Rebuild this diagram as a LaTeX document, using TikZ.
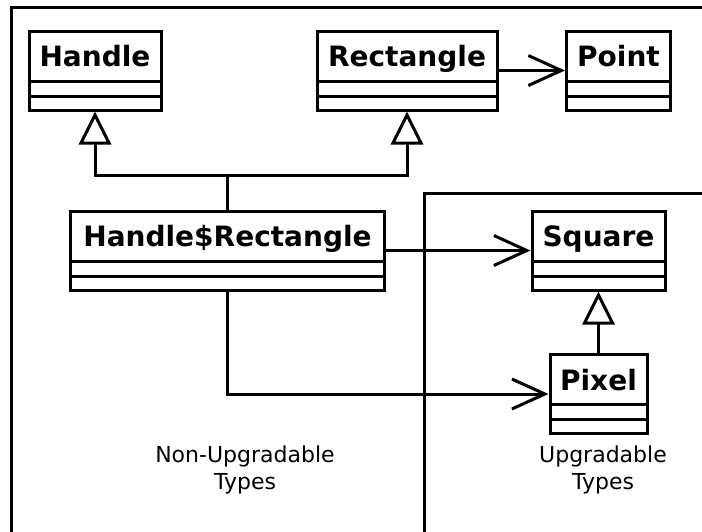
\documentclass[tikz,border=0pt]{standalone}
\usepackage{fontspec}
\setmainfont{DejaVu Sans}
\usetikzlibrary{arrows.meta}

\tikzset{
  cls/.style={draw, line width=3pt, fill=white, inner xsep=0pt, inner ysep=0pt,
    text height=35.5pt, text depth=43.5pt,
    font=\fontsize{28}{34}\selectfont\bfseries,
    path picture={
      \draw[line width=3pt] ([yshift=-50pt]path picture bounding box.north west) -- ([yshift=-50pt]path picture bounding box.north east);
      \draw[line width=3pt] ([yshift=-65pt]path picture bounding box.north west) -- ([yshift=-65pt]path picture bounding box.north east);
    }},
  uses/.style={line width=3pt, -{Straight Barb[length=33pt,width=30pt,line width=3pt]}},
  isa/.style={line width=3pt, -{Triangle[open,length=33pt,width=32pt,line width=3pt,fill=white]}},
  zone/.style={font=\fontsize{22}{27.5}\selectfont, align=center}
}

\begin{document}
\begin{tikzpicture}[x=1pt, y=-1pt]
  \useasboundingbox (0,0) rectangle (702,531);
  \clip (0,0) rectangle (702,531);

  % package frames
  \draw[line width=3pt] (11,560) -- (11,7) -- (720,7);
  \draw[line width=3pt] (424,560) -- (424,193) -- (720,193);

  % non-upgradable classes
  \node[cls, minimum width=132pt] (handle) at (95,70.5) {Handle};
  \node[cls, minimum width=180pt] (rect) at (407,70.5) {Rectangle};
  \node[cls, minimum width=104pt] (point) at (618.5,70.5) {Point};
  \node[cls, minimum width=314pt] (hrect) at (227.5,250.5) {Handle\$Rectangle};

  % upgradable classes
  \node[cls, minimum width=133pt] (square) at (598.5,250.5) {Square};
  \node[cls, minimum width=97pt] (pixel) at (598.5,394) {Pixel};

  % inheritance
  \coordinate (join) at (227.5,175);
  \draw[line width=3pt] (hrect.north) -- (join);
  \draw[isa] (join) -| (handle.south);
  \draw[isa] (join) -| (rect.south);
  \draw[isa] (pixel.north) -- (square.south);

  % associations
  \draw[uses] (rect.east) -- (point.west);
  \draw[uses] (hrect.east) -- (square.west);
  \draw[uses] (hrect.south) |- (pixel.west);

  \node[zone] (fixed) at (245,470) {Non-Upgradable\\Types};
  \node[zone] (loose) at (603,470) {Upgradable\\Types};
\end{tikzpicture}
\end{document}
